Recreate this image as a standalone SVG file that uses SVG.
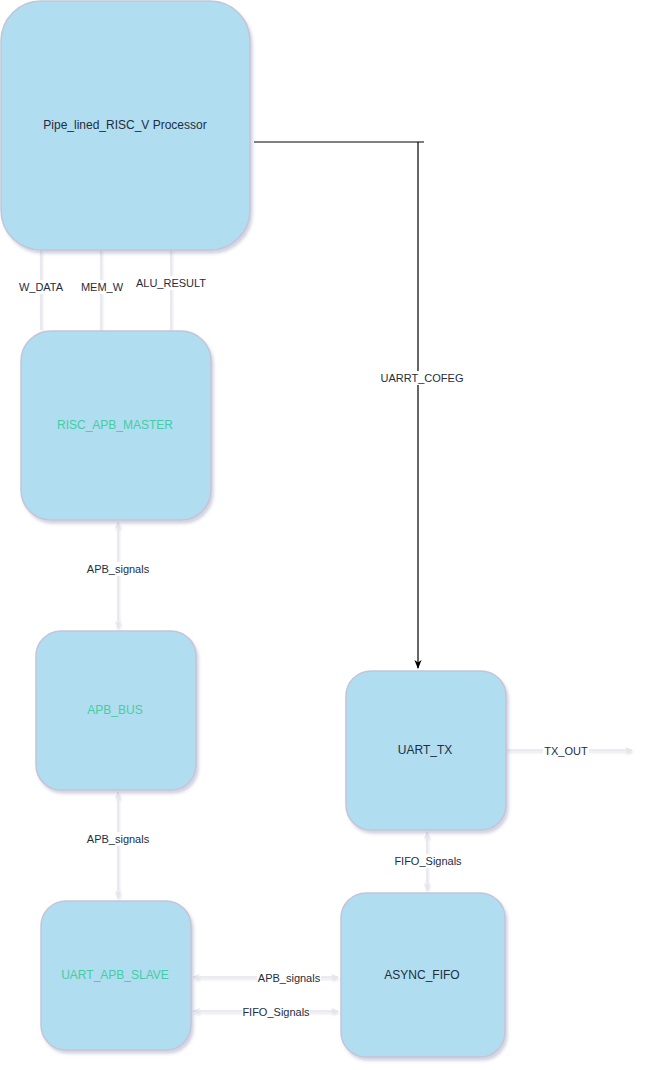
<svg xmlns="http://www.w3.org/2000/svg" width="650" height="1070" viewBox="0 0 650 1070">
<defs>
<filter id="sh" x="-20%" y="-20%" width="140%" height="140%">
<feGaussianBlur in="SourceAlpha" stdDeviation="1.5"/>
<feOffset dx="2" dy="3" result="b"/>
<feFlood flood-color="#6c6c9c" flood-opacity="0.3"/>
<feComposite in2="b" operator="in"/>
<feMerge><feMergeNode/><feMergeNode in="SourceGraphic"/></feMerge>
</filter>
<filter id="esh" filterUnits="userSpaceOnUse" x="0" y="0" width="650" height="1070">
<feGaussianBlur in="SourceAlpha" stdDeviation="1.2"/>
<feOffset dx="1" dy="2" result="b"/>
<feFlood flood-color="#8080a8" flood-opacity="0.25"/>
<feComposite in2="b" operator="in"/>
<feMerge><feMergeNode/><feMergeNode in="SourceGraphic"/></feMerge>
</filter>
<marker id="ah" viewBox="0 0 10 10" refX="9" refY="5" markerWidth="8" markerHeight="8" orient="auto-start-reverse" markerUnits="userSpaceOnUse">
<path d="M0,1 L10,5 L0,9 L3,5 z" fill="#e4e4ec"/>
</marker>
<marker id="ahb" viewBox="0 0 10 10" refX="9" refY="5" markerWidth="9" markerHeight="9" orient="auto" markerUnits="userSpaceOnUse">
<path d="M0,1 L10,5 L0,9 L3,5 z" fill="#000"/>
</marker>
</defs>
<style>
.n{fill:#b1ddf0;stroke:#c4c4d8;stroke-width:1.5;filter:url(#sh)}
.t{font-family:"Liberation Sans",Arial,sans-serif;font-size:12px;fill:#1f2d3d;text-anchor:middle;dominant-baseline:central}
.g{fill:#44cda3}
.e{fill:none;stroke:#e4e4ec;stroke-width:1.5;filter:url(#esh)}
.l{font-family:"Liberation Sans",Arial,sans-serif;font-size:11px;fill:#1f2d3d;text-anchor:middle;dominant-baseline:central}
.bg{fill:#fff}
</style>
<g id="connectors">
<path class="e" d="M41,250 V330"/>
<path class="e" d="M101,250 V330"/>
<path class="e" d="M171,250 V330"/>
<path class="e" d="M118,522 V628" marker-start="url(#ah)" marker-end="url(#ah)"/>
<path class="e" d="M118,792 V898" marker-start="url(#ah)" marker-end="url(#ah)"/>
<path class="e" d="M427,832 V890" marker-start="url(#ah)" marker-end="url(#ah)"/>
<path class="e" d="M507,750 H632" marker-end="url(#ah)"/>
<path class="e" d="M193,977 H338" marker-start="url(#ah)" marker-end="url(#ah)"/>
<path class="e" d="M193,1011 H338" marker-start="url(#ah)" marker-end="url(#ah)"/>
<path d="M254,142 H424 M418,142 V668" fill="none" stroke="#000" stroke-width="1.2" marker-end="url(#ahb)"/>
<rect class="bg" x="19" y="280" width="44" height="14"/>
<rect class="bg" x="80" y="280" width="44" height="14"/>
<rect class="bg" x="136" y="276" width="70" height="14"/>
<rect class="bg" x="380" y="371" width="84" height="14"/>
<rect class="bg" x="86" y="562" width="64" height="14"/>
<rect class="bg" x="86" y="832" width="64" height="14"/>
<rect class="bg" x="394" y="854" width="68" height="14"/>
<rect class="bg" x="543" y="744" width="46" height="14"/>
<rect class="bg" x="257" y="971" width="64" height="14"/>
<rect class="bg" x="242" y="1005" width="68" height="14"/>
<text class="l" x="41" y="287">W_DATA</text>
<text class="l" x="102" y="287">MEM_W</text>
<text class="l" x="171" y="283">ALU_RESULT</text>
<text class="l" x="422" y="378">UARRT_COFEG</text>
<text class="l" x="118" y="569">APB_signals</text>
<text class="l" x="118" y="839">APB_signals</text>
<text class="l" x="428" y="861">FIFO_Signals</text>
<text class="l" x="566" y="751">TX_OUT</text>
<text class="l" x="289" y="978">APB_signals</text>
<text class="l" x="276" y="1012">FIFO_Signals</text>
</g>
<g id="processor"><rect class="n" x="1" y="1" width="249" height="249" rx="40"/><text class="t" x="125" y="125">Pipe_lined_RISC_V Processor</text></g>
<g id="risc_apb_master"><rect class="n" x="21" y="331" width="190" height="189" rx="30"/><text class="t g" x="115" y="425">RISC_APB_MASTER</text></g>
<g id="apb_bus"><rect class="n" x="36" y="631" width="160" height="159" rx="25"/><text class="t g" x="115" y="710">APB_BUS</text></g>
<g id="uart_apb_slave"><rect class="n" x="41" y="901" width="150" height="149" rx="25"/><text class="t g" x="115" y="975">UART_APB_SLAVE</text></g>
<g id="uart_tx"><rect class="n" x="346" y="671" width="160" height="159" rx="25"/><text class="t" x="425" y="750">UART_TX</text></g>
<g id="async_fifo"><rect class="n" x="341" y="893" width="164" height="164" rx="25"/><text class="t" x="422" y="975">ASYNC_FIFO</text></g>
</svg>
